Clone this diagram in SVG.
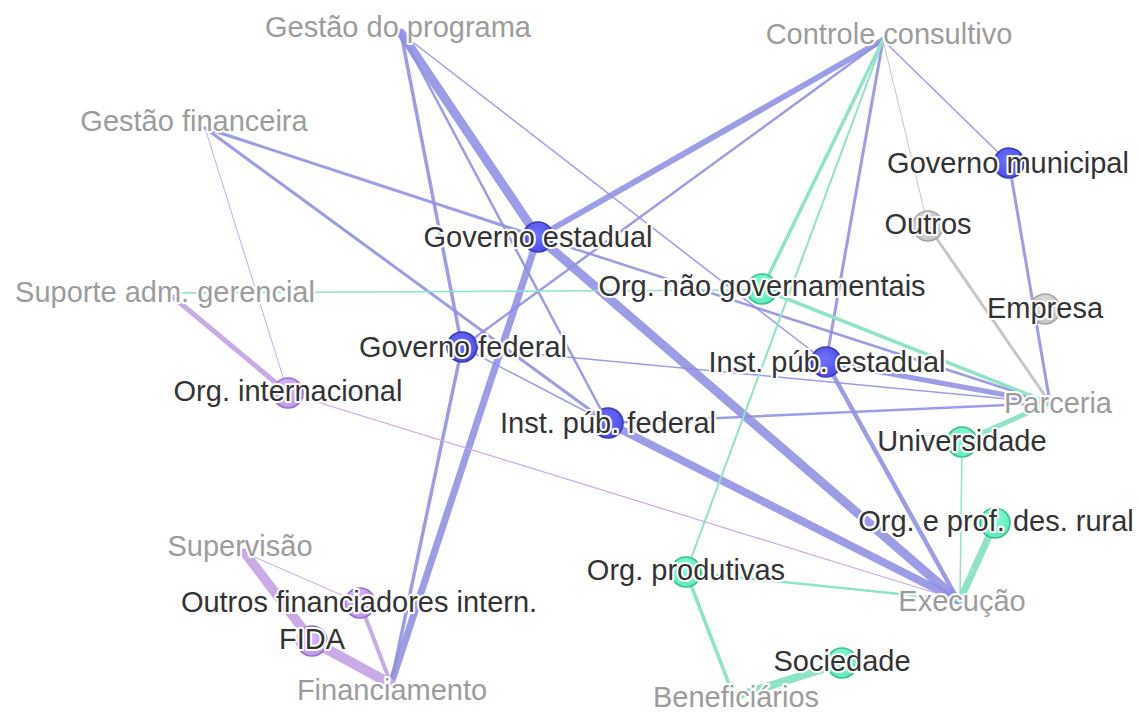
<svg xmlns="http://www.w3.org/2000/svg" width="1139" height="713" viewBox="0 0 1139 713">
<style>
.e{fill:none;stroke-linecap:round}
.b{stroke:#8e8ee4;stroke-opacity:0.88}
.g{stroke:#8fe4c7}
.p{stroke:#c9abe6}
.y{stroke:#c6c6c6}
text{font-family:"Liberation Sans",Arial,Helvetica,sans-serif;font-size:29px;text-anchor:middle;paint-order:stroke;stroke:#fff;stroke-width:4px;stroke-linejoin:round}
.lbl{fill:#333}
.role{fill:#9c9c9c}
.nb{fill:url(#gb);stroke:#3a3ab5;stroke-width:1.6}
.ng{fill:url(#gg);stroke:#3cbf8e;stroke-width:1.6}
.ny{fill:url(#gy);stroke:#a6a6a6;stroke-width:1.6}
.np{fill:url(#gp);stroke:#9a70cc;stroke-width:1.6}
</style>
<defs>
<radialGradient id="gb" cx="0.45" cy="0.4" r="0.6"><stop offset="0" stop-color="#7272ff"/><stop offset="1" stop-color="#4c4ce8"/></radialGradient>
<radialGradient id="gg" cx="0.45" cy="0.4" r="0.6"><stop offset="0" stop-color="#8dffd8"/><stop offset="1" stop-color="#5cecbc"/></radialGradient>
<radialGradient id="gy" cx="0.45" cy="0.4" r="0.6"><stop offset="0" stop-color="#e4e4e4"/><stop offset="1" stop-color="#c4c4c4"/></radialGradient>
<radialGradient id="gp" cx="0.45" cy="0.4" r="0.6"><stop offset="0" stop-color="#dcbcff"/><stop offset="1" stop-color="#c096ee"/></radialGradient>
</defs>
<rect width="1139" height="713" fill="#fff"/>
<g id="edges">
<line class="e b" x1="401" y1="33" x2="538" y2="237" stroke-width="9"/>
<line class="e b" x1="538" y1="237" x2="958" y2="600" stroke-width="9"/>
<line class="e b" x1="608" y1="423" x2="958" y2="600" stroke-width="8"/>
<line class="e b" x1="538" y1="237" x2="391" y2="684" stroke-width="7"/>
<line class="e b" x1="883" y1="40" x2="538" y2="237" stroke-width="6"/>
<line class="e b" x1="826" y1="362" x2="1050" y2="403" stroke-width="5"/>
<line class="e b" x1="826" y1="362" x2="958" y2="600" stroke-width="4.5"/>
<line class="e b" x1="883" y1="40" x2="826" y2="362" stroke-width="3"/>
<line class="e b" x1="883" y1="40" x2="462" y2="347" stroke-width="2.5"/>
<line class="e b" x1="401" y1="33" x2="462" y2="347" stroke-width="3.5"/>
<line class="e b" x1="401" y1="33" x2="608" y2="423" stroke-width="2.5"/>
<line class="e b" x1="401" y1="33" x2="826" y2="362" stroke-width="1.5"/>
<line class="e b" x1="205" y1="128" x2="538" y2="237" stroke-width="3"/>
<line class="e b" x1="205" y1="128" x2="608" y2="423" stroke-width="3"/>
<line class="e b" x1="538" y1="237" x2="1050" y2="403" stroke-width="2.5"/>
<line class="e b" x1="462" y1="347" x2="391" y2="684" stroke-width="3.5"/>
<line class="e b" x1="462" y1="347" x2="608" y2="423" stroke-width="1.5"/>
<line class="e b" x1="462" y1="347" x2="1050" y2="403" stroke-width="1.5"/>
<line class="e b" x1="608" y1="423" x2="1050" y2="403" stroke-width="2.5"/>
<line class="e b" x1="1009" y1="163" x2="1050" y2="403" stroke-width="3"/>
<line class="e b" x1="883" y1="40" x2="1009" y2="163" stroke-width="1.5"/>
<line class="e g" x1="883" y1="40" x2="762" y2="289" stroke-width="3.5"/>
<line class="e g" x1="883" y1="40" x2="686" y2="572" stroke-width="2"/>
<line class="e g" x1="175" y1="293" x2="762" y2="290" stroke-width="1.5"/>
<line class="e g" x1="762" y1="289" x2="1050" y2="403" stroke-width="3.5"/>
<line class="e g" x1="962" y1="442" x2="1050" y2="403" stroke-width="5"/>
<line class="e g" x1="962" y1="442" x2="960" y2="600" stroke-width="1.5"/>
<line class="e g" x1="995" y1="523" x2="960" y2="600" stroke-width="7"/>
<line class="e g" x1="686" y1="572" x2="958" y2="600" stroke-width="2.5"/>
<line class="e g" x1="686" y1="572" x2="734" y2="697" stroke-width="3.5"/>
<line class="e g" x1="842" y1="663" x2="734" y2="697" stroke-width="8"/>
<line class="e y" x1="883" y1="40" x2="928" y2="226" stroke-width="1"/>
<line class="e y" x1="928" y1="226" x2="1050" y2="403" stroke-width="3"/>
<line class="e p" x1="173" y1="297" x2="288" y2="393" stroke-width="5"/>
<line class="e p" x1="205" y1="128" x2="288" y2="393" stroke-width="1"/>
<line class="e p" x1="288" y1="393" x2="958" y2="600" stroke-width="1.2"/>
<line class="e p" x1="245" y1="553" x2="312" y2="641" stroke-width="9.5"/>
<line class="e p" x1="312" y1="641" x2="391" y2="684" stroke-width="10"/>
<line class="e p" x1="245" y1="553" x2="360" y2="603" stroke-width="1"/>
<line class="e p" x1="360" y1="603" x2="391" y2="684" stroke-width="4"/>
</g>
<g id="node-governo-estadual"><circle class="nb" cx="538" cy="237" r="15"/><text class="lbl" x="538" y="247">Governo estadual</text></g>
<g id="node-governo-federal"><circle class="nb" cx="462" cy="347" r="15"/><text class="lbl" x="463" y="357">Governo federal</text></g>
<g id="node-inst-pub-federal"><circle class="nb" cx="608" cy="423" r="15"/><text class="lbl" x="608" y="433">Inst. púb. federal</text></g>
<g id="node-inst-pub-estadual"><circle class="nb" cx="826" cy="362" r="15"/><text class="lbl" x="827" y="372">Inst. púb. estadual</text></g>
<g id="node-governo-municipal"><circle class="nb" cx="1009" cy="163" r="15"/><text class="lbl" x="1008" y="173">Governo municipal</text></g>
<g id="node-org-nao-gov"><circle class="ng" cx="762" cy="289" r="15"/><text class="lbl" x="762" y="296">Org. não governamentais</text></g>
<g id="node-universidade"><circle class="ng" cx="962" cy="442" r="15"/><text class="lbl" x="962" y="451">Universidade</text></g>
<g id="node-org-prof-des-rural"><circle class="ng" cx="995" cy="523" r="15"/><text class="lbl" x="996" y="531">Org. e prof. des. rural</text></g>
<g id="node-org-produtivas"><circle class="ng" cx="686" cy="572" r="15"/><text class="lbl" x="686" y="580">Org. produtivas</text></g>
<g id="node-sociedade"><circle class="ng" cx="842" cy="663" r="15"/><text class="lbl" x="842" y="671">Sociedade</text></g>
<g id="node-outros"><circle class="ny" cx="928" cy="226" r="15"/><text class="lbl" x="928" y="234">Outros</text></g>
<g id="node-empresa"><circle class="ny" cx="1045" cy="309" r="15"/><text class="lbl" x="1045" y="318">Empresa</text></g>
<g id="node-org-internacional"><circle class="np" cx="288" cy="393" r="15"/><text class="lbl" x="288" y="401">Org. internacional</text></g>
<g id="node-outros-financiadores"><circle class="np" cx="360" cy="603" r="15"/><text class="lbl" x="359" y="612">Outros financiadores intern.</text></g>
<g id="node-fida"><circle class="np" cx="312" cy="641" r="15"/><text class="lbl" x="312" y="649">FIDA</text></g>
<g id="role-gestao-programa"><text class="role" x="398" y="37">Gestão do programa</text></g>
<g id="role-controle-consultivo"><text class="role" x="889" y="44">Controle consultivo</text></g>
<g id="role-gestao-financeira"><text class="role" x="194" y="131">Gestão financeira</text></g>
<g id="role-suporte"><text class="role" x="165" y="302">Suporte adm. gerencial</text></g>
<g id="role-parceria"><text class="role" x="1058" y="413">Parceria</text></g>
<g id="role-execucao"><text class="role" x="962" y="611">Execução</text></g>
<g id="role-supervisao"><text class="role" x="240" y="556">Supervisão</text></g>
<g id="role-financiamento"><text class="role" x="392" y="700">Financiamento</text></g>
<g id="role-beneficiarios"><text class="role" x="736" y="707">Beneficiários</text></g>
</svg>
